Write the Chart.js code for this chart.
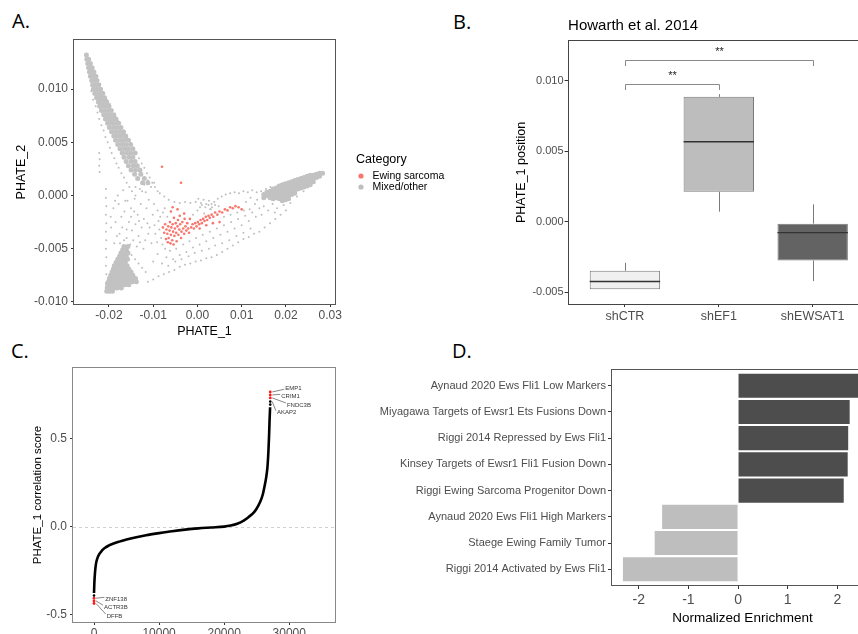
<!DOCTYPE html>
<html>
<head>
<meta charset="utf-8">
<script src="https://cdn.jsdelivr.net/npm/chart.js@4.4.1/dist/chart.umd.min.js"></script>
<style>
html, body { margin: 0; padding: 0; background: #fff; }
body { width: 858px; height: 634px; overflow: hidden; position: relative; }
canvas { position: absolute; }
.tag { position: absolute; font-family: "Open Sans", sans-serif; font-size: 20px; line-height: 20px; color: #000; }
</style>
</head>
<body>
<div class="tag" style="left:12px;top:11px">A.</div>
<div class="tag" style="left:453px;top:12px">B.</div>
<div class="tag" style="left:11px;top:341px">C.</div>
<div class="tag" style="left:452px;top:341px">D.</div>

<canvas id="chartA" width="452" height="314" style="left:0;top:30px"></canvas>
<canvas id="chartB" width="360" height="340" style="left:510px;top:0"></canvas>
<canvas id="chartC" width="345" height="320" style="left:0;top:340px"></canvas>
<canvas id="chartD" width="513" height="290" style="left:360px;top:340px"></canvas>

<script>
// ---------- A. PHATE embedding ----------
const ewingPts = [
  [-0.0073,-0.0027],[-0.0070,-0.0032],[-0.0068,-0.0036],[-0.0066,-0.0029],[-0.0065,-0.0040],[-0.0063,-0.0033],
  [-0.0062,-0.0025],[-0.0060,-0.0037],[-0.0059,-0.0030],[-0.0057,-0.0042],[-0.0056,-0.0027],[-0.0055,-0.0034],
  [-0.0053,-0.0021],[-0.0052,-0.0038],[-0.0051,-0.0031],[-0.0049,-0.0026],[-0.0048,-0.0035],[-0.0047,-0.0043],
  [-0.0045,-0.0029],[-0.0044,-0.0023],[-0.0043,-0.0037],[-0.0041,-0.0032],[-0.0040,-0.0019],[-0.0039,-0.0027],
  [-0.0037,-0.0040],[-0.0036,-0.0034],[-0.0034,-0.0025],[-0.0032,-0.0031],[-0.0030,-0.0036],[-0.0029,-0.0022],
  [-0.0027,-0.0029],[-0.0025,-0.0033],[-0.0023,-0.0026],[-0.0021,-0.0031],[-0.0019,-0.0035],[-0.0017,-0.0022],
  [-0.0075,-0.0035],[-0.0078,-0.0030],[-0.0071,-0.0041],[-0.0067,-0.0044],[-0.0061,-0.0045],[-0.0054,-0.0046],
  [-0.0014,-0.0030],[-0.0011,-0.0027],[-0.0008,-0.0031],[-0.0005,-0.0026],[-0.0002,-0.0029],[0.0001,-0.0025],
  [0.0004,-0.0027],[0.0007,-0.0023],[0.0010,-0.0026],[0.0013,-0.0022],[0.0016,-0.0024],[0.0019,-0.0020],
  [0.0022,-0.0023],[0.0025,-0.0019],[0.0028,-0.0021],[0.0032,-0.0018],[0.0036,-0.0020],[0.0040,-0.0016],
  [0.0045,-0.0018],[0.0050,-0.0015],[0.0056,-0.0016],[0.0062,-0.0013],[0.0068,-0.0014],[0.0074,-0.0011],
  [0.0080,-0.0012],[0.0086,-0.0010],[0.0093,-0.0011],[0.0100,-0.0013],[0.0005,-0.0031],[0.0020,-0.0028],
  [0.0035,-0.0026],[0.0050,-0.0025],[-0.0080,0.0027],[-0.0037,0.0012],[-0.0056,-0.0011],[-0.0060,-0.0015],
  [-0.0045,-0.0013],[-0.0030,-0.0017]
];

// dense cores of the three arms
const mixedDense = [
  [-0.0251,0.0132],[-0.0250,0.0128],[-0.0246,0.0128],[-0.0248,0.0124],[-0.0242,0.0124],
  [-0.0246,0.0120],[-0.0242,0.0120],[-0.0238,0.0120],[-0.0244,0.0116],[-0.0239,0.0116],[-0.0234,0.0116],
  [-0.0242,0.0112],[-0.0236,0.0112],[-0.0230,0.0112],[-0.0239,0.0108],[-0.0233,0.0108],[-0.0227,0.0108],
  [-0.0237,0.0104],[-0.0230,0.0104],[-0.0223,0.0104],[-0.0235,0.0100],[-0.0227,0.0100],[-0.0219,0.0100],
  [-0.0232,0.0096],[-0.0226,0.0096],[-0.0220,0.0096],[-0.0214,0.0096],
  [-0.0228,0.0092],[-0.0222,0.0092],[-0.0216,0.0092],[-0.0210,0.0092],
  [-0.0224,0.0088],[-0.0218,0.0088],[-0.0211,0.0088],[-0.0205,0.0088],
  [-0.0221,0.0084],[-0.0214,0.0084],[-0.0207,0.0084],[-0.0200,0.0084],
  [-0.0217,0.0080],[-0.0210,0.0080],[-0.0202,0.0080],[-0.0195,0.0080],
  [-0.0212,0.0076],[-0.0205,0.0076],[-0.0197,0.0076],[-0.0189,0.0076],
  [-0.0208,0.0072],[-0.0200,0.0072],[-0.0192,0.0072],[-0.0184,0.0072],
  [-0.0203,0.0068],[-0.0195,0.0068],[-0.0187,0.0068],[-0.0178,0.0068],
  [-0.0199,0.0064],[-0.0190,0.0064],[-0.0182,0.0064],[-0.0173,0.0064],
  [-0.0194,0.0060],[-0.0185,0.0060],[-0.0176,0.0060],[-0.0167,0.0060],
  [-0.0189,0.0056],[-0.0180,0.0056],[-0.0171,0.0056],[-0.0162,0.0056],
  [-0.0185,0.0052],[-0.0175,0.0052],[-0.0166,0.0052],[-0.0156,0.0052],
  [-0.0180,0.0048],[-0.0170,0.0048],[-0.0161,0.0048],[-0.0151,0.0048],
  [-0.0175,0.0044],[-0.0165,0.0044],[-0.0156,0.0044],[-0.0146,0.0044],
  [-0.0170,0.0040],[-0.0160,0.0040],[-0.0151,0.0040],[-0.0141,0.0040],
  [-0.0166,0.0036],[-0.0155,0.0036],[-0.0146,0.0036],[-0.0161,0.0032],[-0.0150,0.0032],[-0.0141,0.0032],
  [-0.0156,0.0028],[-0.0145,0.0028],[-0.0136,0.0028],[-0.0150,0.0024],[-0.0140,0.0024],[-0.0130,0.0024],
  [-0.0142,0.0020],[-0.0128,0.0020],[-0.0135,0.0016],[-0.0120,0.0016],[-0.0124,0.0012],[-0.0112,0.0012],
  // lower-left blob
  [-0.0205,-0.0090],[-0.0199,-0.0090],[-0.0192,-0.0090],
  [-0.0204,-0.0087],[-0.0197,-0.0087],[-0.0190,-0.0087],[-0.0182,-0.0087],[-0.0172,-0.0087],
  [-0.0203,-0.0084],[-0.0196,-0.0084],[-0.0189,-0.0084],[-0.0181,-0.0084],[-0.0173,-0.0084],[-0.0164,-0.0084],[-0.0155,-0.0084],
  [-0.0201,-0.0081],[-0.0194,-0.0081],[-0.0187,-0.0081],[-0.0180,-0.0081],[-0.0172,-0.0081],[-0.0164,-0.0081],[-0.0156,-0.0081],[-0.0147,-0.0081],[-0.0138,-0.0081],
  [-0.0199,-0.0078],[-0.0192,-0.0078],[-0.0185,-0.0078],[-0.0178,-0.0078],[-0.0171,-0.0078],[-0.0163,-0.0078],[-0.0155,-0.0078],[-0.0147,-0.0078],[-0.0140,-0.0078],
  [-0.0196,-0.0075],[-0.0189,-0.0075],[-0.0182,-0.0075],[-0.0175,-0.0075],[-0.0168,-0.0075],[-0.0161,-0.0075],[-0.0153,-0.0075],[-0.0146,-0.0075],
  [-0.0193,-0.0072],[-0.0186,-0.0072],[-0.0179,-0.0072],[-0.0172,-0.0072],[-0.0165,-0.0072],[-0.0158,-0.0072],[-0.0150,-0.0072],
  [-0.0190,-0.0069],[-0.0183,-0.0069],[-0.0176,-0.0069],[-0.0169,-0.0069],[-0.0162,-0.0069],[-0.0155,-0.0069],
  [-0.0188,-0.0066],[-0.0180,-0.0066],[-0.0173,-0.0066],[-0.0166,-0.0066],[-0.0159,-0.0066],
  [-0.0184,-0.0063],[-0.0177,-0.0063],[-0.0170,-0.0063],[-0.0163,-0.0063],
  [-0.0180,-0.0060],[-0.0173,-0.0060],[-0.0166,-0.0060],[-0.0158,-0.0060],
  [-0.0176,-0.0057],[-0.0169,-0.0057],[-0.0161,-0.0057],[-0.0173,-0.0054],[-0.0165,-0.0054],[-0.0157,-0.0054],
  [-0.0169,-0.0051],[-0.0161,-0.0051],[-0.0166,-0.0048],[-0.0157,-0.0048],
  // right arm
  [0.0283,0.0021],[0.0276,0.0021],[0.0276,0.0018],[0.0269,0.0020],[0.0269,0.0017],
  [0.0262,0.0019],[0.0262,0.0016],[0.0262,0.0013],
  [0.0255,0.0019],[0.0255,0.0016],[0.0255,0.0013],[0.0255,0.0010],
  [0.0248,0.0018],[0.0248,0.0015],[0.0248,0.0012],[0.0248,0.0009],
  [0.0241,0.0017],[0.0241,0.0014],[0.0241,0.0011],[0.0241,0.0008],
  [0.0234,0.0016],[0.0234,0.0013],[0.0234,0.0010],[0.0234,0.0007],
  [0.0227,0.0015],[0.0227,0.0012],[0.0227,0.0009],[0.0227,0.0006],
  [0.0220,0.0014],[0.0220,0.0011],[0.0220,0.0008],[0.0220,0.0005],[0.0220,0.0002],
  [0.0213,0.0013],[0.0213,0.0010],[0.0213,0.0007],[0.0213,0.0004],[0.0213,0.0001],
  [0.0206,0.0012],[0.0206,0.0009],[0.0206,0.0006],[0.0206,0.0003],[0.0206,0.0000],[0.0206,-0.0003],
  [0.0199,0.0011],[0.0199,0.0008],[0.0199,0.0005],[0.0199,0.0002],[0.0199,-0.0001],[0.0199,-0.0004],
  [0.0192,0.0010],[0.0192,0.0007],[0.0192,0.0004],[0.0192,0.0001],[0.0192,-0.0002],[0.0192,-0.0005],
  [0.0185,0.0009],[0.0185,0.0006],[0.0185,0.0003],[0.0185,0.0000],[0.0185,-0.0003],
  [0.0178,0.0007],[0.0178,0.0004],[0.0178,0.0001],[0.0178,-0.0002],
  [0.0171,0.0006],[0.0171,0.0003],[0.0171,0.0000],[0.0171,-0.0003],
  [0.0164,0.0004],[0.0164,0.0001],[0.0164,-0.0002],[0.0157,0.0003],[0.0157,0.0000],[0.0150,0.0001],[0.0150,-0.0002]
];

// sparse cells scattered through the triangle
const mixedSparse = [
  [-0.0226,0.0112],[-0.0220,0.0105],[-0.0240,0.0098],[-0.0212,0.0097],[-0.0236,0.0090],[-0.0205,0.0090],
  [-0.0230,0.0084],[-0.0198,0.0086],[-0.0226,0.0078],[-0.0192,0.0080],[-0.0222,0.0072],[-0.0186,0.0074],
  [-0.0217,0.0066],[-0.0180,0.0070],[-0.0212,0.0061],[-0.0174,0.0063],[-0.0208,0.0055],[-0.0168,0.0058],
  [-0.0203,0.0050],[-0.0160,0.0054],[-0.0198,0.0045],[-0.0152,0.0049],[-0.0194,0.0040],[-0.0146,0.0044],
  [-0.0188,0.0035],[-0.0138,0.0040],[-0.0183,0.0030],[-0.0132,0.0035],[-0.0178,0.0026],[-0.0126,0.0030],
  [-0.0172,0.0021],[-0.0120,0.0026],[-0.0166,0.0017],[-0.0114,0.0021],[-0.0160,0.0012],[-0.0108,0.0017],
  [-0.0154,0.0008],[-0.0102,0.0012],[-0.0148,0.0004],[-0.0096,0.0008],[-0.0140,0.0000],[-0.0090,0.0004],
  [-0.0120,0.0010],[-0.0112,0.0014],[-0.0105,0.0008],[-0.0098,0.0012],[-0.0130,0.0006],[-0.0117,0.0003],
  [-0.0222,0.0040],[-0.0221,0.0034],[-0.0222,0.0028],[-0.0221,0.0022],[-0.0207,0.0006],[-0.0207,-0.0002],
  [-0.0206,-0.0010],[-0.0207,-0.0018],[-0.0206,-0.0026],[-0.0207,-0.0034],[-0.0206,-0.0042],[-0.0207,-0.0050],
  [-0.0206,-0.0058],[-0.0207,-0.0066],[-0.0206,-0.0074],[-0.0207,-0.0082],
  [-0.0158,-0.0005],[-0.0150,-0.0012],[-0.0142,-0.0003],[-0.0135,-0.0018],[-0.0128,-0.0008],[-0.0121,-0.0022],
  [-0.0115,-0.0012],[-0.0108,-0.0030],[-0.0101,-0.0018],[-0.0095,-0.0036],[-0.0088,-0.0024],[-0.0082,-0.0040],
  [-0.0155,-0.0025],[-0.0148,-0.0033],[-0.0140,-0.0027],[-0.0133,-0.0038],[-0.0126,-0.0030],[-0.0118,-0.0042],
  [-0.0111,-0.0036],[-0.0104,-0.0045],[-0.0160,-0.0040],[-0.0152,-0.0046],[-0.0145,-0.0042],[-0.0137,-0.0048],
  [-0.0130,-0.0044],[-0.0122,-0.0050],[-0.0165,-0.0015],[-0.0170,-0.0030],[-0.0175,-0.0045],[-0.0168,0.0005],
  [-0.0140,0.0008],[-0.0125,0.0004],[-0.0110,-0.0004],[-0.0098,-0.0008],[-0.0090,-0.0014],[-0.0084,-0.0020],
  [-0.0078,-0.0016],[-0.0150,-0.0020],[-0.0143,-0.0015],[-0.0132,-0.0024],[-0.0113,-0.0026],[-0.0097,-0.0028],
  [-0.0091,-0.0044],[-0.0086,-0.0032],[-0.0079,-0.0046],[-0.0073,-0.0050],[-0.0068,-0.0020],[-0.0074,-0.0012],
  [-0.0190,-0.0012],[-0.0185,-0.0025],[-0.0182,-0.0038],[-0.0178,-0.0008],[-0.0172,-0.0020],[-0.0188,-0.0045],
  [-0.0195,-0.0030],[-0.0180,0.0000],[-0.0163,-0.0005],[-0.0160,-0.0032],[-0.0196,-0.0020],[-0.0186,-0.0005],
  [-0.0176,-0.0036],[-0.0166,-0.0042],[-0.0157,-0.0052],[-0.0149,-0.0056],[-0.0141,-0.0060],[-0.0133,-0.0064],
  [-0.0125,-0.0068],[-0.0117,-0.0072],
  [-0.0070,-0.0058],[-0.0062,-0.0052],[-0.0055,-0.0060],[-0.0048,-0.0050],[-0.0040,-0.0056],[-0.0032,-0.0046],
  [-0.0025,-0.0053],[-0.0018,-0.0043],[-0.0010,-0.0049],[-0.0003,-0.0040],[0.0005,-0.0046],[0.0012,-0.0037],
  [0.0020,-0.0043],[0.0028,-0.0034],[0.0036,-0.0040],[0.0044,-0.0031],[0.0052,-0.0037],[0.0060,-0.0028],
  [0.0068,-0.0034],[0.0076,-0.0025],[0.0084,-0.0031],[0.0092,-0.0022],[0.0100,-0.0028],[0.0108,-0.0019],
  [0.0116,-0.0024],[0.0124,-0.0016],[0.0132,-0.0020],[0.0140,-0.0012],
  [-0.0100,-0.0062],[-0.0090,-0.0055],[-0.0080,-0.0064],[-0.0066,-0.0066],[-0.0050,-0.0062],[-0.0036,-0.0060],
  [-0.0020,-0.0057],[-0.0006,-0.0054],[0.0010,-0.0052],[0.0026,-0.0050],[0.0040,-0.0047],[0.0056,-0.0045],
  [0.0072,-0.0042],[0.0088,-0.0038],[0.0104,-0.0035],[0.0120,-0.0031],
  [-0.0112,-0.0081],[-0.0100,-0.0079],[-0.0088,-0.0076],[-0.0076,-0.0074],[-0.0064,-0.0072],[-0.0052,-0.0070],
  [-0.0040,-0.0067],[-0.0028,-0.0065],[-0.0016,-0.0064],[-0.0004,-0.0062],[0.0008,-0.0061],[0.0020,-0.0059],
  [0.0032,-0.0058],[0.0044,-0.0056],[0.0056,-0.0053],[0.0068,-0.0050],[0.0080,-0.0047],[0.0092,-0.0044],
  [0.0104,-0.0041],[0.0116,-0.0039],[0.0128,-0.0036],[0.0140,-0.0034],[0.0152,-0.0030],[0.0164,-0.0026],
  [0.0176,-0.0022],[0.0188,-0.0018],[0.0200,-0.0014],
  [-0.0085,0.0002],[-0.0075,-0.0001],[-0.0065,-0.0004],[-0.0052,-0.0006],[-0.0040,-0.0007],[-0.0028,-0.0006],
  [-0.0016,-0.0007],[-0.0004,-0.0006],[0.0002,-0.0003],[0.0008,-0.0007],[0.0014,-0.0004],[0.0020,-0.0008],
  [0.0026,-0.0005],[0.0032,-0.0008],[0.0038,-0.0006],[0.0046,-0.0003],[0.0055,-0.0001],[0.0064,0.0001],
  [0.0074,0.0002],[0.0084,0.0003],[0.0094,0.0002],[0.0104,0.0004],[0.0114,0.0003],[0.0124,0.0005],
  [0.0134,0.0003],[0.0144,0.0004],
  [0.0010,-0.0009],[0.0018,-0.0011],[0.0025,-0.0009],[0.0033,-0.0011],[0.0040,-0.0009],[0.0006,-0.0011],[0.0029,-0.0013],
  [-0.0010,-0.0018],[0.0000,-0.0014],[0.0015,-0.0017],[0.0030,-0.0013],[0.0048,-0.0010],[0.0060,-0.0020],
  [0.0075,-0.0018],[0.0090,-0.0016],[0.0105,-0.0014],[0.0118,-0.0013],[0.0130,-0.0008],[0.0110,-0.0006],
  [0.0120,-0.0002],[0.0135,-0.0004],
  [0.0150,-0.0010],[0.0160,-0.0014],[0.0170,-0.0008],[0.0180,-0.0012],[0.0145,-0.0018],[0.0195,-0.0009],
  [0.0175,-0.0016],[0.0210,-0.0007],[0.0225,-0.0001],[0.0240,0.0004],[0.0155,0.0006],[0.0165,0.0008]
];
const aXTicks = [-0.02, -0.01, 0, 0.01, 0.02, 0.03];
const aYTicks = [-0.01, -0.005, 0, 0.005, 0.01];

// ---------- B. Howarth et al. 2014 boxplots ----------
const bGroups = ["shCTR", "shEF1", "shEWSAT1"];
const bMin    = [-0.00481, 0.00071, -0.00422];
const bQ1     = [-0.00481, 0.00212, -0.00276];
const bMedian = [-0.00425, 0.00568, -0.00078];
const bQ3     = [-0.00349, 0.00887, -0.00014];
const bMax    = [-0.00292, 0.00906, 0.00123];
const bYTicks = [-0.005, 0, 0.005, 0.01];
const bSigFrom = [0, 0];
const bSigTo = [1, 2];
const bSigY = [0.00976, 0.01146];
const bSigLabel = ["**", "**"];

// ---------- C. ranked PHATE_1 correlation ----------
const rankX = [0, 50, 150, 300, 500, 800, 1200, 1700, 2300, 3000, 4000, 5000, 6500, 8000, 10000, 12000,
  14000, 16000, 18000, 20000, 21000, 22000, 23000, 23800, 24500, 25000, 25500, 25900, 26200, 26450,
  26650, 26800, 26900, 26980, 27060];
const corrY = [-0.375, -0.32, -0.26, -0.21, -0.18, -0.155, -0.135, -0.118, -0.105, -0.094, -0.082, -0.071,
  -0.058, -0.047, -0.035, -0.024, -0.015, -0.008, -0.003, 0.002, 0.008, 0.018, 0.036, 0.058, 0.08, 0.105,
  0.14, 0.18, 0.23, 0.28, 0.34, 0.43, 0.52, 0.61, 0.68];
const topGenes = ["EMP1", "CRIM1", "FNDC3B", "AKAP2"];
const topScore = [0.767, 0.750, 0.733, 0.712];
const topRank = 27080;
const bottomGenes = ["ZNF138", "ACTR3B", "DFFB"];
const bottomScore = [-0.405, -0.420, -0.435];
const bottomRank = 0;
const extraTop = [0.695];
const extraBottom = [-0.39];
const cXTicks = [0, 10000, 20000, 30000];
const cYTicks = [-0.5, 0, 0.5];

// ---------- D. GSEA normalized enrichment ----------
const gseaSets = [
  "Aynaud 2020 Ews Fli1 Low Markers",
  "Miyagawa Targets of Ewsr1 Ets Fusions Down",
  "Riggi 2014 Repressed by Ews Fli1",
  "Kinsey Targets of Ewsr1 Fli1 Fusion Down",
  "Riggi Ewing Sarcoma Progenitor Down",
  "Aynaud 2020 Ews Fli1 High Markers",
  "Staege Ewing Family Tumor",
  "Riggi 2014 Activated by Ews Fli1"
];
const gseaNES = [2.5, 2.25, 2.22, 2.21, 2.13, -1.53, -1.68, -2.32];
const dXTicks = [-2, -1, 0, 1, 2];

// ---------- common styling ----------
const FONT = '"Liberation Sans", Arial, Helvetica, sans-serif';
Chart.defaults.font.family = FONT;
Chart.defaults.color = '#4d4d4d';
Chart.defaults.animation = false;
Chart.defaults.plugins.legend.display = false;
Chart.defaults.plugins.tooltip.enabled = false;

const toXY = p => ({x: p[0], y: p[1]});

function axis(ticks, fmt, size, tickLen, pad, extra) {
  return Object.assign({
    type: 'linear',
    offset: false,
    grid: {drawOnChartArea: false, drawTicks: true, tickLength: tickLen, tickColor: '#333', offset: false},
    border: {display: false},
    afterBuildTicks: ax => { ax.ticks = ticks.map(v => ({value: v})); },
    ticks: {callback: fmt, font: {size: size}, color: '#4d4d4d', padding: pad, autoSkip: false, maxRotation: 0}
  }, extra);
}

const frame = {
  id: 'frame',
  afterDraw(chart, args, opts) {
    const a = chart.chartArea, c = chart.ctx;
    c.save();
    c.strokeStyle = opts.color || '#444';
    c.lineWidth = 1;
    c.strokeRect(Math.round(a.left) - 0.5, Math.round(a.top) - 0.5,
      Math.round(a.right - a.left) + 1, Math.round(a.bottom - a.top) + 1);
    c.restore();
  }
};

// ---------- chart A ----------
const legendA = {
  id: 'legendA',
  afterDraw(chart) {
    const c = chart.ctx;
    c.save();
    c.textBaseline = 'middle';
    c.fillStyle = '#000';
    c.font = '12.5px ' + FONT;
    c.fillText('Category', 356, 130);
    c.font = '10.5px ' + FONT;
    [chart.data.datasets[0], chart.data.datasets[1]].forEach((ds, i) => {
      const y = 146 + i * 11;
      c.fillStyle = ds.backgroundColor;
      c.beginPath(); c.arc(361, y, 2.6, 0, Math.PI * 2); c.fill();
      c.fillStyle = '#000';
      c.fillText(ds.label, 372.5, y + 0.5);
    });
    c.restore();
  }
};

new Chart(document.getElementById('chartA'), {
  type: 'scatter',
  data: {
    datasets: [
      {label: 'Ewing sarcoma', data: ewingPts.map(toXY), backgroundColor: '#f8766d', pointRadius: 1.3, borderWidth: 0},
      {label: 'Mixed/other', data: mixedSparse.map(toXY), backgroundColor: '#bebebe', pointRadius: 1, borderWidth: 0},
      {label: 'Mixed/other', data: mixedDense.map(toXY), backgroundColor: '#c2c2c2', pointRadius: 2.5, borderWidth: 0}
    ]
  },
  options: {
    responsive: false,
    layout: {padding: {left: 10.5, top: 9, right: 117, bottom: 0.5}},
    scales: {
      x: axis(aXTicks, v => v.toFixed(2), 12, 3, 1, {
        min: -0.0279, max: 0.0311,
        title: {display: true, text: 'PHATE_1', color: '#000', font: {size: 12.5}},
        afterFit: s => { s.height = 39.5; }
      }),
      y: axis(aYTicks, v => v.toFixed(3), 12, 3, 3, {
        min: -0.0102, max: 0.0146,
        title: {display: true, text: 'PHATE_2', color: '#000', font: {size: 12.5}},
        afterFit: s => { s.width = 63.5; }
      })
    },
    plugins: {frame: {color: '#555'}}
  },
  plugins: [frame, legendA]
});

// ---------- chart B ----------
const boxParts = {
  id: 'boxParts',
  afterDatasetsDraw(chart) {
    const c = chart.ctx, xs = chart.scales.x, ys = chart.scales.y;
    const half = (xs.getPixelForValue(1) - xs.getPixelForValue(0)) * 0.375;
    c.save();
    bGroups.forEach((g, i) => {
      const x = xs.getPixelForValue(i);
      c.strokeStyle = '#7a7a7a'; c.lineWidth = 1;
      c.beginPath();
      c.moveTo(Math.round(x) + 0.5, ys.getPixelForValue(bQ3[i])); c.lineTo(Math.round(x) + 0.5, ys.getPixelForValue(bMax[i]));
      c.moveTo(Math.round(x) + 0.5, ys.getPixelForValue(bQ1[i])); c.lineTo(Math.round(x) + 0.5, ys.getPixelForValue(bMin[i]));
      c.stroke();
      c.strokeStyle = '#333'; c.lineWidth = 1.4;
      c.beginPath();
      c.moveTo(x - half, ys.getPixelForValue(bMedian[i])); c.lineTo(x + half, ys.getPixelForValue(bMedian[i]));
      c.stroke();
    });
    // significance brackets
    c.strokeStyle = '#8a8a8a'; c.lineWidth = 1;
    c.fillStyle = '#222'; c.font = '11px ' + FONT; c.textAlign = 'center'; c.textBaseline = 'alphabetic';
    bSigY.forEach((yv, k) => {
      const x1 = Math.round(xs.getPixelForValue(bSigFrom[k])) + 0.5;
      const x2 = Math.round(xs.getPixelForValue(bSigTo[k])) + 0.5;
      const y = Math.round(ys.getPixelForValue(yv)) + 0.5;
      const yTip = ys.getPixelForValue(yv - 0.0004);
      c.beginPath();
      c.moveTo(x1, yTip); c.lineTo(x1, y); c.lineTo(x2, y); c.lineTo(x2, yTip);
      c.stroke();
      c.fillText(bSigLabel[k], (x1 + x2) / 2, ys.getPixelForValue(yv + 0.00037));
    });
    // panel title
    c.textAlign = 'left'; c.textBaseline = 'middle'; c.fillStyle = '#000';
    c.font = '15px ' + FONT;
    c.fillText('Howarth et al. 2014', chart.chartArea.left - 0.5, 26);
    c.restore();
  }
};

new Chart(document.getElementById('chartB'), {
  type: 'bar',
  data: {
    datasets: [{
      data: bGroups.map((g, i) => ({x: i, y: [bQ1[i], bQ3[i]]})),
      backgroundColor: ['#f0f0f0', '#bdbdbd', '#636363'],
      borderColor: '#7a7a7a', borderWidth: 1, borderSkipped: false,
      barPercentage: 0.75, categoryPercentage: 1
    }]
  },
  options: {
    responsive: false,
    layout: {padding: {left: 0.5, top: 41, right: 1, bottom: 0}},
    scales: {
      x: axis([0, 1, 2], v => bGroups[v], 12.5, 3, 2, {
        min: -0.6, max: 2.6,
        afterFit: s => { s.height = 36; }
      }),
      y: axis(bYTicks, v => v.toFixed(3), 11, 4, 1, {
        min: -0.00585, max: 0.01284,
        title: {display: true, text: 'PHATE_1 position', color: '#000', font: {size: 12.5}},
        afterFit: s => { s.width = 58.1; }
      })
    },
    plugins: {frame: {color: '#444'}}
  },
  plugins: [frame, boxParts]
});

// ---------- chart C ----------
const zeroLine = {
  id: 'zeroLine',
  beforeDatasetsDraw(chart) {
    const c = chart.ctx, a = chart.chartArea, y = Math.round(chart.scales.y.getPixelForValue(0)) + 0.5;
    c.save();
    c.strokeStyle = '#d0d0d0'; c.lineWidth = 1; c.setLineDash([3, 3]);
    c.beginPath(); c.moveTo(a.left, y); c.lineTo(a.right, y); c.stroke();
    c.restore();
  }
};
// label anchors for the repelled gene names (rank, score)
const topLabelPos = [[29385, 0.788], [28770, 0.742], [29640, 0.693], [28100, 0.649]];
const bottomLabelPos = [[1740, -0.411], [1540, -0.456], [1950, -0.506]];
const geneLabels = {
  id: 'geneLabels',
  afterDatasetsDraw(chart) {
    const c = chart.ctx, xs = chart.scales.x, ys = chart.scales.y;
    c.save();
    c.font = '6px ' + FONT; c.fillStyle = '#333'; c.strokeStyle = '#555'; c.lineWidth = 0.7;
    c.textBaseline = 'middle'; c.textAlign = 'left';
    const draw = (names, scores, rank, pos) => names.forEach((n, i) => {
      const px = xs.getPixelForValue(rank) + 2, py = ys.getPixelForValue(scores[i]);
      const lx = xs.getPixelForValue(pos[i][0]), ly = ys.getPixelForValue(pos[i][1]);
      c.beginPath(); c.moveTo(px, py); c.lineTo(lx - 1, ly + (ly > py ? -2 : 1)); c.stroke();
      c.fillText(n, lx, ly);
    });
    draw(topGenes, topScore, topRank, topLabelPos);
    draw(bottomGenes, bottomScore, bottomRank, bottomLabelPos);
    c.restore();
  }
};

const topRed = topScore.slice(0, 3);
new Chart(document.getElementById('chartC'), {
  type: 'scatter',
  data: {
    datasets: [
      {data: topRed.map(v => ({x: topRank, y: v})).concat(bottomScore.map(v => ({x: bottomRank, y: v}))),
        backgroundColor: '#ff1a1a', pointRadius: 1.4, borderWidth: 0},
      {data: [topScore[3]].concat(extraTop).map(v => ({x: topRank, y: v})).concat(extraBottom.map(v => ({x: bottomRank, y: v}))),
        backgroundColor: '#000', pointRadius: 1.3, borderWidth: 0},
      {data: rankX.map((x, i) => ({x: x, y: corrY[i]})), showLine: true, borderColor: '#000',
        borderWidth: 2.6, pointRadius: 0, cubicInterpolationMode: 'monotone'}
    ]
  },
  options: {
    responsive: false,
    layout: {padding: {left: 27, top: 28, right: 10, bottom: 0}},
    scales: {
      x: axis(cXTicks, v => String(v), 12, 3, 1, {
        min: -3230, max: 37030,
        afterFit: s => { s.height = 38; }
      }),
      y: axis(cYTicks, v => v.toFixed(1), 12, 3, 3, {
        min: -0.54, max: 0.903,
        title: {display: true, text: 'PHATE_1 correlation score', color: '#000', font: {size: 11.5}},
        afterFit: s => { s.width = 46; }
      })
    },
    plugins: {frame: {color: '#888'}}
  },
  plugins: [frame, zeroLine, geneLabels]
});

// ---------- chart D ----------
new Chart(document.getElementById('chartD'), {
  type: 'bar',
  data: {
    datasets: [{
      data: gseaNES.map((v, i) => ({x: v, y: i})),
      backgroundColor: gseaNES.map(v => v > 0 ? '#4d4d4d' : '#bebebe'),
      borderWidth: 0, barPercentage: 1, categoryPercentage: 0.92
    }]
  },
  options: {
    responsive: false,
    indexAxis: 'y',
    layout: {padding: {left: 0, top: 30, right: 0, bottom: 0}},
    scales: {
      x: axis(dXTicks, v => String(v), 14, 4, 3, {
        min: -2.54, max: 2.72,
        title: {display: true, text: 'Normalized Enrichment', color: '#000', font: {size: 13.5}},
        afterFit: s => { s.height = 45; }
      }),
      y: axis([0, 1, 2, 3, 4, 5, 6, 7], v => gseaSets[v], 11, 4, 2, {
        min: -0.6, max: 7.6, reverse: true,
        afterFit: s => { s.width = 252; }
      })
    },
    plugins: {frame: {color: '#555'}}
  },
  plugins: [frame]
});
</script>
</body>
</html>
